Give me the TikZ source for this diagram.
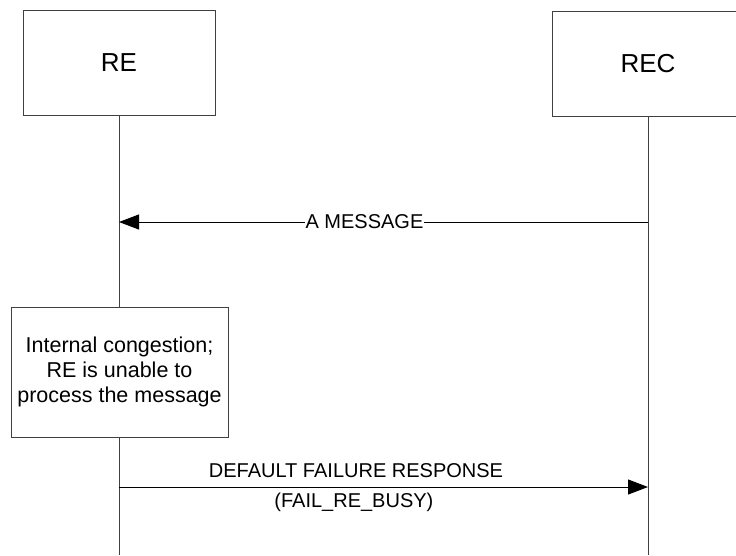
\documentclass[tikz,border=0pt]{standalone}
\usepackage{fontspec}
\setmainfont{Liberation Sans}
\usetikzlibrary{arrows.meta}

\begin{document}
\begin{tikzpicture}[x=1pt, y=-1pt,
		actor/.style={draw=black!75, line width=1pt, minimum width=192pt, minimum height=105pt, font=\fontsize{26}{30}\selectfont},
		lifeline/.style={draw=black!75, line width=1pt},
		msg/.style={draw=black, line width=1pt, -{Triangle[length=20pt, width=15pt]}},
		lbl/.style={font=\fontsize{20}{24}\selectfont, inner sep=1pt}]
		\useasboundingbox (0,0) rectangle (736,555);
		% the two ends
		\node[actor] (re) at (119,62.5) {RE};
		\node[actor] (rec) at (648,63.5) {REC};
		\node[draw=black!75, line width=1pt, minimum width=217pt, minimum height=130pt, align=center,
			font=\fontsize{21.5}{25}\selectfont] (cong) at (119.5,372) {Internal congestion;\\RE is unable to\\process the message};
		\coordinate (reend) at (119,555);
		\coordinate (recend) at (648,555);
		\coordinate (m1) at (0,222);
		\coordinate (m2) at (0,487);
		
		\draw[lifeline] (re.south) -- (re.south |- cong.north);
		\draw[lifeline] (re.south |- cong.south) -- (reend);
		\draw[lifeline] (rec.south) -- (recend);
		
		\draw[msg] (rec |- m1) -- (re |- m1) node[lbl, pos=0.536, fill=white] (amsg) {A MESSAGE};
		\draw[msg] (re |- m2) -- (rec |- m2)
			node[lbl, pos=0.448, anchor=base, yshift=10pt] (dfr) {DEFAULT FAILURE RESPONSE}
			node[lbl, pos=0.444, anchor=base, yshift=-20pt] (busy) {(FAIL\_RE\_BUSY)};
		
	\end{tikzpicture}
\end{document}
